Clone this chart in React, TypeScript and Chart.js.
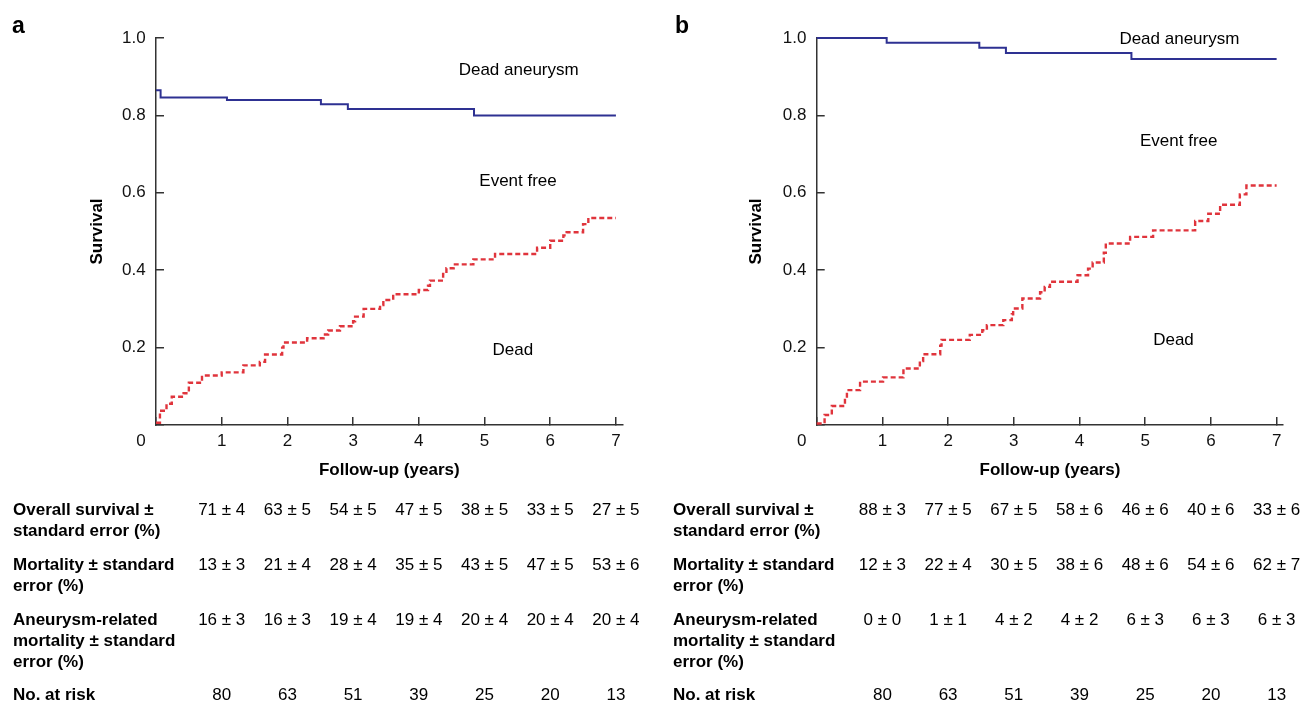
import React, { useEffect, useRef } from 'react';
import { Chart, registerables } from 'chart.js';

Chart.register(...registerables);

// ---------- data ----------
const xTicks = [0, 1, 2, 3, 4, 5, 6, 7];
const yTicks = [0, 0.2, 0.4, 0.6, 0.8, 1.0];
const tableYears = [1, 2, 3, 4, 5, 6, 7];

// Panel a
const aAneurysmT = [0, 0.07, 1.08, 2.51, 2.92, 4.84, 7.0];
const aAneurysmV = [0.865, 0.846, 0.84, 0.829, 0.8165, 0.8, 0.8];
const aDeadT = [0, 0.06, 0.16, 0.24, 0.42, 0.5, 0.7, 1.0, 1.33, 1.58, 1.66, 1.92, 1.94, 2.3, 2.55, 2.62, 2.8, 3.0, 3.03, 3.16, 3.41, 3.46, 3.61, 4.0, 4.14, 4.17, 4.37, 4.42, 4.53, 4.83, 5.16, 5.8, 6.0, 6.2, 6.25, 6.5, 6.58, 7.0];
const aDeadV = [0.006, 0.037, 0.055, 0.073, 0.082, 0.109, 0.128, 0.136, 0.154, 0.163, 0.182, 0.2, 0.213, 0.224, 0.234, 0.244, 0.255, 0.268, 0.28, 0.3, 0.31, 0.323, 0.338, 0.349, 0.36, 0.373, 0.39, 0.405, 0.415, 0.428, 0.442, 0.458, 0.476, 0.49, 0.498, 0.519, 0.535, 0.535];
const aSurvival = ['71 ± 4', '63 ± 5', '54 ± 5', '47 ± 5', '38 ± 5', '33 ± 5', '27 ± 5'];
const aMortality = ['13 ± 3', '21 ± 4', '28 ± 4', '35 ± 5', '43 ± 5', '47 ± 5', '53 ± 6'];
const aAneurysmMortality = ['16 ± 3', '16 ± 3', '19 ± 4', '19 ± 4', '20 ± 4', '20 ± 4', '20 ± 4'];
const aAtRisk = ['80', '63', '51', '39', '25', '20', '13'];

// Panel b
const bAneurysmT = [0, 1.065, 2.475, 2.88, 4.79, 7.0];
const bAneurysmV = [1.0, 0.988, 0.975, 0.961, 0.946, 0.946];
const bDeadT = [0, 0.12, 0.23, 0.43, 0.46, 0.66, 1.01, 1.32, 1.57, 1.62, 1.88, 1.9, 2.33, 2.52, 2.59, 2.84, 2.97, 2.99, 3.13, 3.4, 3.47, 3.55, 3.97, 4.13, 4.2, 4.37, 4.4, 4.77, 5.12, 5.76, 5.96, 6.14, 6.44, 6.54, 7.0];
const bDeadV = [0.004, 0.026, 0.049, 0.07, 0.09, 0.112, 0.123, 0.146, 0.165, 0.183, 0.205, 0.22, 0.233, 0.245, 0.258, 0.271, 0.286, 0.301, 0.327, 0.343, 0.357, 0.37, 0.387, 0.404, 0.42, 0.445, 0.469, 0.486, 0.503, 0.527, 0.546, 0.569, 0.596, 0.619, 0.619];
const bSurvival = ['88 ± 3', '77 ± 5', '67 ± 5', '58 ± 6', '46 ± 6', '40 ± 6', '33 ± 6'];
const bMortality = ['12 ± 3', '22 ± 4', '30 ± 5', '38 ± 6', '48 ± 6', '54 ± 6', '62 ± 7'];
const bAneurysmMortality = ['0 ± 0', '1 ± 1', '4 ± 2', '4 ± 2', '6 ± 3', '6 ± 3', '6 ± 3'];
const bAtRisk = ['80', '63', '51', '39', '25', '20', '13'];

const rowLabels = [
  ['Overall survival ±', 'standard error (%)'],
  ['Mortality ± standard', 'error (%)'],
  ['Aneurysm-related', 'mortality ± standard', 'error (%)'],
  ['No. at risk'],
];

const noteTexts = ['Dead aneurysm', 'Event free', 'Dead'];
const aNoteX = [5.52, 5.51, 5.43];
const aNoteY = [0.9155, 0.6305, 0.194];
const bNoteX = [5.52, 5.51, 5.43];
const bNoteY = [0.9966, 0.734, 0.2196];

// ---------- style ----------
const FAMILY = "'Liberation Sans', Arial, Helvetica, sans-serif";
const BLUE = '#2e3192';
const RED = '#e0343c';
const AXIS = '#333333';
const TEXT = '#111111';
const ROW_Y = [510, 565, 620, 695];
const LINE_GAP = 21;
const H = 702;

type PanelCfg = {
  letter: string;
  left: number;
  width: number;
  yAxisWidth: number;
  padRight: number;
  yTitlePad: number;
  letterX: number;
  tableX: number;
  aneT: number[];
  aneV: number[];
  deadT: number[];
  deadV: number[];
  rows: string[][];
  noteX: number[];
  noteY: number[];
};

const panels: PanelCfg[] = [
  {
    letter: 'a', left: 0, width: 651, yAxisWidth: 156, padRight: 28.5, yTitlePad: 86.8,
    letterX: 12, tableX: 13,
    aneT: aAneurysmT, aneV: aAneurysmV, deadT: aDeadT, deadV: aDeadV,
    rows: [aSurvival, aMortality, aAneurysmMortality, aAtRisk],
    noteX: aNoteX, noteY: aNoteY,
  },
  {
    letter: 'b', left: 651, width: 652, yAxisWidth: 165.7, padRight: 19.8, yTitlePad: 95.5,
    letterX: 24, tableX: 22,
    aneT: bAneurysmT, aneV: bAneurysmV, deadT: bDeadT, deadV: bDeadV,
    rows: [bSurvival, bMortality, bAneurysmMortality, bAtRisk],
    noteX: bNoteX, noteY: bNoteY,
  },
];

function Panel({ cfg }: { cfg: PanelCfg }) {
  const ref = useRef<HTMLCanvasElement>(null);
  useEffect(() => {
    const canvas = ref.current;
    if (!canvas) return;
    const overlay = {
      id: 'overlay',
      afterDraw(chart: any) {
        const ctx = chart.ctx;
        const xs = chart.scales.x;
        const ys = chart.scales.y;
        ctx.save();
        ctx.fillStyle = '#000';
        ctx.font = `bold 23px ${FAMILY}`;
        ctx.textAlign = 'left';
        ctx.textBaseline = 'alphabetic';
        ctx.fillText(cfg.letter, cfg.letterX, 33);

        ctx.fillStyle = TEXT;
        ctx.font = `17px ${FAMILY}`;
        ctx.textAlign = 'right';
        ctx.textBaseline = 'middle';
        ctx.fillText('0', xs.left - 10.3, ys.bottom + 16);

        ctx.fillStyle = '#000';
        ctx.textAlign = 'center';
        noteTexts.forEach((t, i) => {
          ctx.fillText(t, xs.getPixelForValue(cfg.noteX[i]), ys.getPixelForValue(cfg.noteY[i]));
        });

        rowLabels.forEach((lines, r) => {
          ctx.font = `bold 17px ${FAMILY}`;
          ctx.textAlign = 'left';
          lines.forEach((line, k) => ctx.fillText(line, cfg.tableX, ROW_Y[r] + k * LINE_GAP));
          ctx.font = `17px ${FAMILY}`;
          ctx.textAlign = 'center';
          cfg.rows[r].forEach((v, i) => ctx.fillText(v, xs.getPixelForValue(tableYears[i]), ROW_Y[r]));
        });
        ctx.restore();
      },
    };

    const chart = new Chart(canvas, {
      type: 'line',
      data: {
        datasets: [
          {
            data: cfg.aneT.map((t, i) => ({ x: t, y: cfg.aneV[i] })),
            borderColor: BLUE,
            borderWidth: 2,
            stepped: 'before',
            pointRadius: 0,
            fill: false,
            clip: false,
          } as any,
          {
            data: cfg.deadT.map((t, i) => ({ x: t, y: cfg.deadV[i] })),
            borderColor: RED,
            borderWidth: 2.4,
            borderDash: [5, 3],
            stepped: 'before',
            pointRadius: 0,
            fill: false,
            clip: false,
          } as any,
        ],
      },
      options: {
        responsive: false,
        animation: false,
        events: [],
        layout: { padding: { left: 0, top: 38, right: cfg.padRight, bottom: 212 } },
        plugins: { legend: { display: false }, tooltip: { enabled: false } },
        scales: {
          x: {
            type: 'linear',
            min: 0,
            max: 7.1,
            afterBuildTicks: (s: any) => { s.ticks = xTicks.map((v) => ({ value: v })); },
            afterFit: (s: any) => { s.height = 65; },
            ticks: {
              padding: 13.8,
              color: TEXT,
              font: { family: FAMILY, size: 17 },
              maxRotation: 0,
              autoSkip: false,
              callback: (v: any) => (Number(v) === 0 ? '' : String(v)),
            },
            grid: { drawOnChartArea: false, tickLength: -8, color: AXIS, lineWidth: 1.5 },
            border: { display: true, color: AXIS, width: 1.5 },
            title: {
              display: true,
              text: 'Follow-up (years)',
              color: '#000',
              font: { family: FAMILY, size: 17, weight: 'bold' },
              padding: { top: 0, bottom: 9.8 },
            },
          },
          y: {
            type: 'linear',
            min: 0,
            max: 1,
            afterBuildTicks: (s: any) => { s.ticks = yTicks.map((v) => ({ value: v })); },
            afterFit: (s: any) => { s.width = cfg.yAxisWidth; },
            ticks: {
              padding: 18.3,
              color: TEXT,
              font: { family: FAMILY, size: 17 },
              callback: (v: any) => (Number(v) === 0 ? '' : Number(v).toFixed(1)),
            },
            grid: { drawOnChartArea: false, tickLength: -8, color: AXIS, lineWidth: 1.5 },
            border: { display: true, color: AXIS, width: 1.5 },
            title: {
              display: true,
              text: 'Survival',
              color: '#000',
              font: { family: FAMILY, size: 17, weight: 'bold' },
              padding: { top: cfg.yTitlePad, bottom: 0 },
            },
          },
        },
      } as any,
      plugins: [overlay],
    });
    return () => chart.destroy();
  }, [cfg]);

  return (
    <canvas
      ref={ref}
      width={cfg.width}
      height={H}
      style={{ position: 'absolute', left: cfg.left, top: 0, width: cfg.width, height: H }}
    />
  );
}

export default function App() {
  return (
    <div style={{ position: 'absolute', left: 0, top: 0, width: 1303, height: H, background: '#fff', overflow: 'hidden' }}>
      {panels.map((p) => (
        <Panel key={p.letter} cfg={p} />
      ))}
    </div>
  );
}
